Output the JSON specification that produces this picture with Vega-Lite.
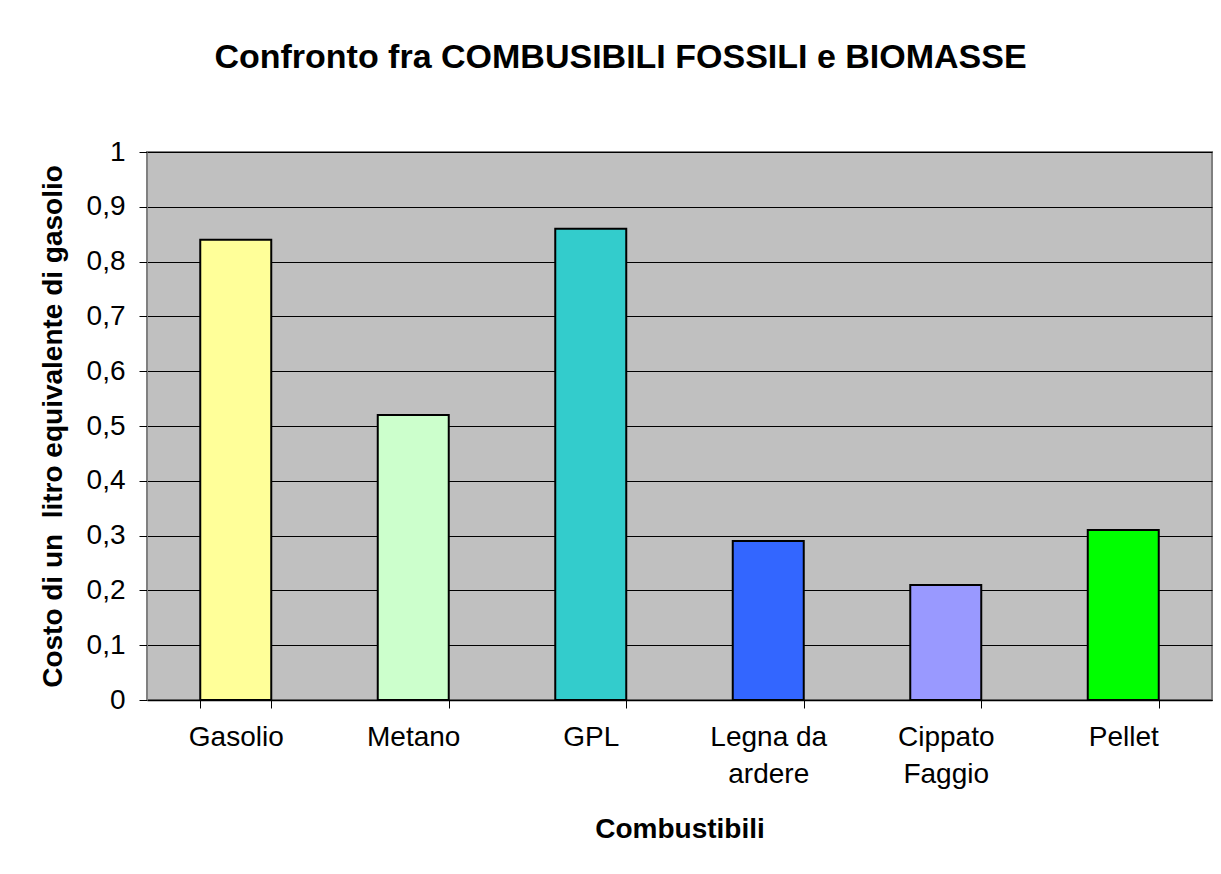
{
  "$schema": "https://vega.github.io/schema/vega-lite/v6.json",
  "autosize": {"type": "none"},
  "width": 1065,
  "height": 548,
  "padding": {"left": 147, "top": 152, "right": 9, "bottom": 174},
  "background": "white",
  "title": {
    "text": "Confronto fra COMBUSIBILI FOSSILI e BIOMASSE",
    "font": "Liberation Sans",
    "fontSize": 34,
    "fontWeight": "bold",
    "color": "black",
    "anchor": "middle",
    "dx": -59,
    "offset": 63
  },
  "data": {
    "values": [
      {"combustibile": "Gasolio", "costo": 0.84, "colore": "#FFFF99"},
      {"combustibile": "Metano", "costo": 0.52, "colore": "#CCFFCC"},
      {"combustibile": "GPL", "costo": 0.86, "colore": "#33CCCC"},
      {"combustibile": "Legna da ardere", "costo": 0.29, "colore": "#3366FF"},
      {"combustibile": "Cippato Faggio", "costo": 0.21, "colore": "#9999FF"},
      {"combustibile": "Pellet", "costo": 0.31, "colore": "#00FF00"}
    ]
  },
  "mark": {"type": "bar", "stroke": "black", "strokeWidth": 2},
  "encoding": {
    "x": {
      "field": "combustibile",
      "type": "nominal",
      "sort": null,
      "scale": {"paddingInner": 0.6, "paddingOuter": 0.3},
      "axis": {
        "title": "Combustibili",
        "titleFont": "Liberation Sans",
        "titleFontSize": 28,
        "titleFontWeight": "bold",
        "titleColor": "black",
        "titlePadding": 27,
        "labelFont": "Liberation Sans",
        "labelFontSize": 28,
        "labelColor": "black",
        "labelAngle": 0,
        "labelPadding": 15,
        "labelLineHeight": 37,
        "labelExpr": "datum.label == 'Legna da ardere' ? ['Legna da', 'ardere'] : datum.label == 'Cippato Faggio' ? ['Cippato', 'Faggio'] : datum.label",
        "tickBand": "extent",
        "tickSize": 8,
        "tickColor": "black",
        "domainColor": "black",
        "domainWidth": 1.5
      }
    },
    "y": {
      "field": "costo",
      "type": "quantitative",
      "scale": {"domain": [0, 1], "nice": false},
      "axis": {
        "title": "Costo di un\u00a0 litro equivalente di gasolio",
        "titleFont": "Liberation Sans",
        "titleFontSize": 28,
        "titleFontWeight": "bold",
        "titleColor": "black",
        "titlePadding": 19,
        "values": [0, 0.1, 0.2, 0.3, 0.4, 0.5, 0.6, 0.7, 0.8, 0.9, 1],
        "labelExpr": "replace(format(datum.value, '~g'), '.', ',')",
        "labelFont": "Liberation Sans",
        "labelFontSize": 28,
        "labelColor": "black",
        "labelPadding": 14,
        "tickSize": 8,
        "tickColor": "black",
        "domainColor": "#808080",
        "grid": true,
        "gridColor": "black",
        "gridWidth": 1
      }
    },
    "fill": {"field": "colore", "type": "nominal", "scale": null, "legend": null}
  },
  "config": {
    "view": {"fill": "#C0C0C0", "stroke": "#808080", "strokeWidth": 2}
  }
}
